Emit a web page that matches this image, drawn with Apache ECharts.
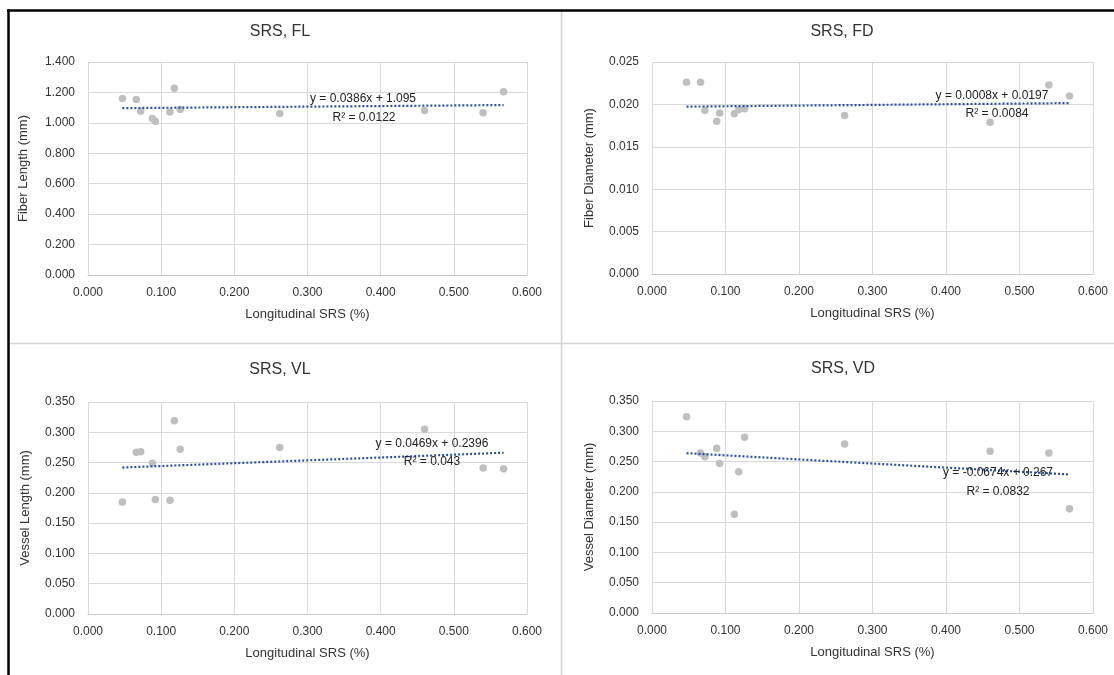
<!DOCTYPE html>
<html><head><meta charset="utf-8">
<script src="https://cdn.jsdelivr.net/npm/echarts@6/dist/echarts.min.js"></script>
<style>html,body{margin:0;padding:0;background:#fff}#c{width:1114px;height:675px}</style>
</head><body><div id="c"></div>
<script>
// ---- data ----
const xSRS          = [0.047, 0.066, 0.072, 0.088, 0.092, 0.112, 0.118, 0.126, 0.262, 0.460, 0.540, 0.568];
const fiberLength   = [1.160, 1.154, 1.077, 1.029, 1.011, 1.072, 1.228, 1.088, 1.062, 1.082, 1.066, 1.204];
const fiberDiameter = [0.0226, 0.0226, 0.0193, 0.0180, 0.0190, 0.0189, 0.0194, 0.0195, 0.0187, 0.0179, 0.0223, 0.0210];
const vesselLength  = [0.185, 0.267, 0.268, 0.249, 0.189, 0.188, 0.319, 0.272, 0.275, 0.305, 0.241, 0.240];
const vesselDiameter= [0.324, 0.264, 0.258, 0.272, 0.247, 0.163, 0.233, 0.290, 0.279, 0.267, 0.264, 0.172];

const panelTitles = ['SRS, FL', 'SRS, FD', 'SRS, VL', 'SRS, VD'];
const yAxisNames  = ['Fiber Length (mm)', 'Fiber Diameter (mm)', 'Vessel Length (mm)', 'Vessel Diameter (mm)'];
const xAxisName   = 'Longitudinal SRS (%)';
const xMin = 0, xMax = 0.6, xStep = 0.1;
const yMaxes = [1.4, 0.025, 0.35, 0.35];
const ySteps = [0.2, 0.005, 0.05, 0.05];
const trendSlopes     = [0.0386, 0.0008, 0.0469, -0.0674];
const trendIntercepts = [1.095, 0.0197, 0.2396, 0.267];
const eqLabels = ['y = 0.0386x + 1.095', 'y = 0.0008x + 0.0197', 'y = 0.0469x + 0.2396', 'y = -0.0674x + 0.267'];
const r2Labels = ['R\u00B2 = 0.0122', 'R\u00B2 = 0.0084', 'R\u00B2 = 0.043', 'R\u00B2 = 0.0832'];
const seriesValues = [fiberLength, fiberDiameter, vesselLength, vesselDiameter];

// ---- layout / style ----
const FONT = '"Liberation Sans", Arial, sans-serif';
const TXT = '#333333';
const grids = [
  {left: 88,  top: 62,  width: 439, height: 213},
  {left: 652, top: 62,  width: 441, height: 212},
  {left: 88,  top: 402, width: 439, height: 212},
  {left: 652, top: 401, width: 441, height: 212}
];
const yNameGaps = [58, 56, 56, 56];
const titlePos = [[280, 32], [842, 32], [280, 370], [843, 369]];
const eqPos = [[363, 99], [992, 96], [432, 444], [998, 473]];
const r2Pos = [[364, 118], [997, 114], [432, 462], [998, 492]];

const chart = echarts.init(document.getElementById('c'), null, {renderer: 'canvas'});

const xAxes = [], yAxes = [], series = [], graphics = [];
const xLo = Math.min(...xSRS), xHi = Math.max(...xSRS);

for (let i = 0; i < 4; i++) {
  xAxes.push({
    type: 'value', gridIndex: i, min: xMin, max: xMax, interval: xStep,
    name: xAxisName, nameLocation: 'middle', nameGap: 33,
    nameTextStyle: {color: TXT, fontSize: 13, fontFamily: FONT},
    axisLine: {show: true, lineStyle: {color: '#c8c8c8', width: 1}},
    axisTick: {show: false},
    axisLabel: {color: TXT, fontSize: 12, fontFamily: FONT, margin: 12, formatter: v => v.toFixed(3)},
    splitLine: {show: true, lineStyle: {color: '#d9d9d9', width: 1}}
  });
  yAxes.push({
    type: 'value', gridIndex: i, min: 0, max: yMaxes[i], interval: ySteps[i],
    name: yAxisNames[i], nameLocation: 'middle', nameGap: yNameGaps[i], nameRotate: 90,
    nameTextStyle: {color: TXT, fontSize: 13, fontFamily: FONT},
    axisLine: {show: false}, axisTick: {show: false},
    axisLabel: {color: TXT, fontSize: 12, fontFamily: FONT, margin: 13, formatter: v => v.toFixed(3)},
    splitLine: {show: true, lineStyle: {color: '#d9d9d9', width: 1}}
  });
  series.push({
    type: 'scatter', xAxisIndex: i, yAxisIndex: i,
    data: xSRS.map((x, k) => [x, seriesValues[i][k]]),
    symbolSize: 7.5, itemStyle: {color: '#BFBFBF', opacity: 1},
    z: 2, silent: true
  });
  series.push({
    type: 'line', xAxisIndex: i, yAxisIndex: i,
    data: [[xLo, trendSlopes[i] * xLo + trendIntercepts[i]], [xHi, trendSlopes[i] * xHi + trendIntercepts[i]]],
    showSymbol: false, symbol: 'none',
    lineStyle: {color: '#2E4FA8', width: 2.2, type: [2, 2]},
    z: 3, silent: true
  });
  graphics.push({type: 'text', x: titlePos[i][0], y: titlePos[i][1], z: 10,
    style: {text: panelTitles[i], fill: TXT, font: '16px ' + FONT, textAlign: 'center', textVerticalAlign: 'middle', verticalAlign: 'middle'}});
  graphics.push({type: 'text', x: eqPos[i][0], y: eqPos[i][1], z: 10,
    style: {text: eqLabels[i], fill: '#222222', font: '12px ' + FONT, textAlign: 'center', textVerticalAlign: 'middle', verticalAlign: 'middle'}});
  graphics.push({type: 'text', x: r2Pos[i][0], y: r2Pos[i][1], z: 10,
    style: {text: r2Labels[i], fill: '#222222', font: '12px ' + FONT, textAlign: 'center', textVerticalAlign: 'middle', verticalAlign: 'middle'}});
}

// frame and panel dividers
graphics.push({type: 'line', z: 5, shape: {x1: 561.5, y1: 11, x2: 561.5, y2: 675}, style: {stroke: '#d4d4d4', lineWidth: 1.5}});
graphics.push({type: 'line', z: 5, shape: {x1: 9, y1: 343.5, x2: 1114, y2: 343.5}, style: {stroke: '#d4d4d4', lineWidth: 1.5}});
graphics.push({type: 'line', z: 6, shape: {x1: 7, y1: 10.5, x2: 1114, y2: 10.5}, style: {stroke: '#000', lineWidth: 2.5}});
graphics.push({type: 'line', z: 6, shape: {x1: 8.5, y1: 9.5, x2: 8.5, y2: 675}, style: {stroke: '#000', lineWidth: 2.5}});

chart.setOption({
  animation: false,
  backgroundColor: '#ffffff',
  grid: grids,
  xAxis: xAxes,
  yAxis: yAxes,
  series: series,
  graphic: graphics
});
</script>
</body></html>
